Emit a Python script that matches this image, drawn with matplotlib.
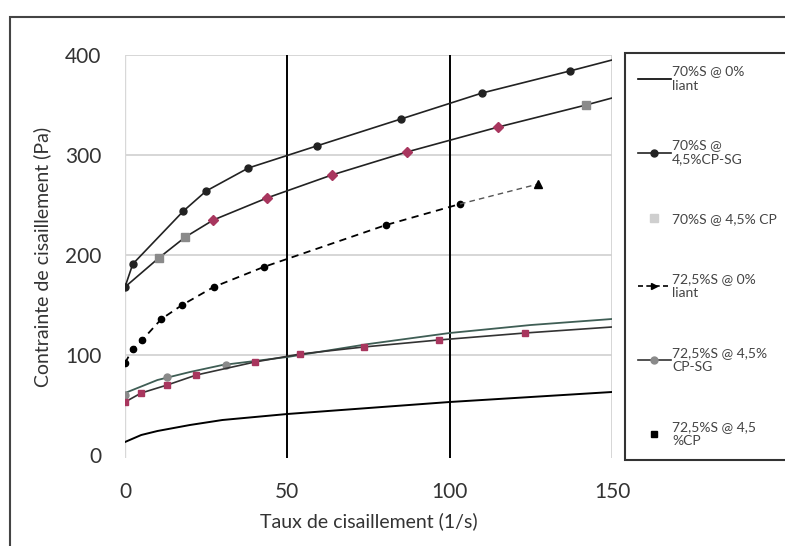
import matplotlib.pyplot as plt
from matplotlib.lines import Line2D
from matplotlib.patches import Rectangle

plt.rcParams['font.family'] = ['Lato', 'DejaVu Sans']

# 70%S @ 0% liant (line only)
s1_x = [0, 5, 10, 20, 30, 50, 75, 100, 125, 150]
s1_y = [13, 20, 24, 30, 35, 41, 47, 53, 58, 63]

# 70%S @ 4,5%CP-SG (markers + line, line carried on to 150)
s2_x = [0, 2.4, 18, 25, 38, 59, 85, 110, 137, 150]
s2_y = [168, 191, 244, 264, 287, 309, 336, 362, 384, 395]

# 70%S @ 4,5% CP
s3_x = [0, 10.4, 18.6, 27.2, 43.7, 63.7, 86.8, 115, 142, 150]
s3_y = [168, 197, 218, 235, 257, 280, 303, 328, 350, 357]
s3_grey_x = [10.4, 18.6, 142]
s3_grey_y = [197, 218, 350]
s3_pink_x = [27.2, 43.7, 63.7, 86.8, 115]
s3_pink_y = [235, 257, 280, 303, 328]

# 72,5%S @ 0% liant (dashed)
s4_x = [0, 2.4, 5.3, 11.2, 17.6, 27.3, 42.7, 80.4, 103.2, 127.3]
s4_y = [92, 106, 115, 136, 150, 168, 188, 230, 251, 271]

# 72,5%S @ 4,5% CP-SG
s5_x = [0, 10, 20, 30, 50, 75, 100, 125, 150]
s5_y = [62, 75, 83, 90, 98, 111, 122, 130, 136]
s5_mk_x = [0, 13, 31]
s5_mk_y = [60, 78, 90]

# 72,5%S @ 4,5 %CP
s6_x = [0, 5, 13, 22, 40, 54, 73.5, 96.6, 123.2, 150]
s6_y = [53, 62, 70, 80, 93, 101, 108, 115, 122, 128]

labels = ['70%S @ 0%\nliant', '70%S @\n4,5%CP-SG', '70%S @ 4,5% CP',
          '72,5%S @ 0%\nliant', '72,5%S @ 4,5%\nCP-SG', '72,5%S @ 4,5\n%CP']

pink = '#a8365e'
grey = '#8a8a8a'

fig = plt.figure(figsize=(7.85, 5.46), dpi=100)
ax = fig.add_axes([125/785, 1-458/546, 487/785, 403/546])

for yv in [100, 200, 300, 400]:
    ax.axhline(yv, color='#d0d0d0', lw=1.2, zorder=0)
ax.axvline(0, color='#d8d8d8', lw=1.0, zorder=0)
ax.axvline(150, color='#d0d0d0', lw=1.2, zorder=0)
for xv in [50, 100]:
    ax.axvline(xv, color='black', lw=1.4, zorder=1)

ax.plot(s1_x, s1_y, color='black', lw=1.4)
ax.plot(s2_x, s2_y, color='#222222', lw=1.2, marker='o', ms=5,
        markevery=list(range(len(s2_x) - 1)))
ax.plot(s3_x, s3_y, color='#222222', lw=1.2)
ax.plot(s3_grey_x, s3_grey_y, ls='none', marker='s', ms=6, color=grey)
ax.plot(s3_pink_x, s3_pink_y, ls='none', marker='D', ms=5, color=pink)
ax.plot(s4_x[:-1], s4_y[:-1], color='black', lw=1.3, ls=(0, (4, 3)),
        marker='o', ms=4.5)
ax.plot(s4_x[-2:], s4_y[-2:], color='#555555', lw=1.0, ls=(0, (4, 3)))
ax.plot(s4_x[-1:], s4_y[-1:], ls='none', marker='^', ms=6, color='black')
ax.plot(s5_x, s5_y, color='#3f5e55', lw=1.3)
ax.plot(s5_mk_x, s5_mk_y, ls='none', marker='o', ms=5, color=grey)
ax.plot(s6_x, s6_y, color='#333333', lw=1.2, marker='s', ms=5,
        mfc=pink, mec=pink, markevery=list(range(len(s6_x) - 1)))

ax.set_xlim(0, 150)
ax.set_ylim(-3, 400)
ax.set_xticks([0, 50, 100, 150])
ax.set_yticks([0, 100, 200, 300, 400])
ax.tick_params(length=0, labelsize=15, colors='#333333', pad=17)
for sp in ax.spines.values():
    sp.set_visible(False)
ax.set_xlabel('Taux de cisaillement (1/s)', fontsize=14, color='#333333', labelpad=8)
ax.set_ylabel('Contrainte de cisaillement (Pa)', fontsize=14, color='#333333', labelpad=10)

handles = [
    Line2D([], [], color='black', lw=1.2),
    Line2D([], [], color='#222222', lw=1.2, marker='o', ms=5),
    Line2D([], [], ls='none', marker='s', ms=6, color='#cfcfcf'),
    Line2D([], [], color='black', lw=1.2, ls=(0, (3, 2)), marker='>', ms=4),
    Line2D([], [], color='#333333', lw=1.2, marker='o', ms=5, mfc=grey, mec=grey),
    Line2D([], [], ls='none', marker='s', ms=4, color='black'),
]
leg = fig.legend(handles, labels, loc='upper left',
                 bbox_to_anchor=(625/785, 1-53/546), fontsize=10,
                 labelspacing=3.45, handlelength=2.4, handletextpad=0.1,
                 borderpad=0.9, borderaxespad=0, frameon=True, fancybox=False)
leg.get_frame().set_edgecolor('black')
leg.get_frame().set_linewidth(1.5)
for t in leg.get_texts():
    t.set_color('#444444')

fig.patches.append(Rectangle((10/785, -0.1), 1.2, 1.1 - 17/546,
                             transform=fig.transFigure, fill=False,
                             edgecolor='#444444', lw=1.5))

fig.savefig('out.png', dpi=100)
